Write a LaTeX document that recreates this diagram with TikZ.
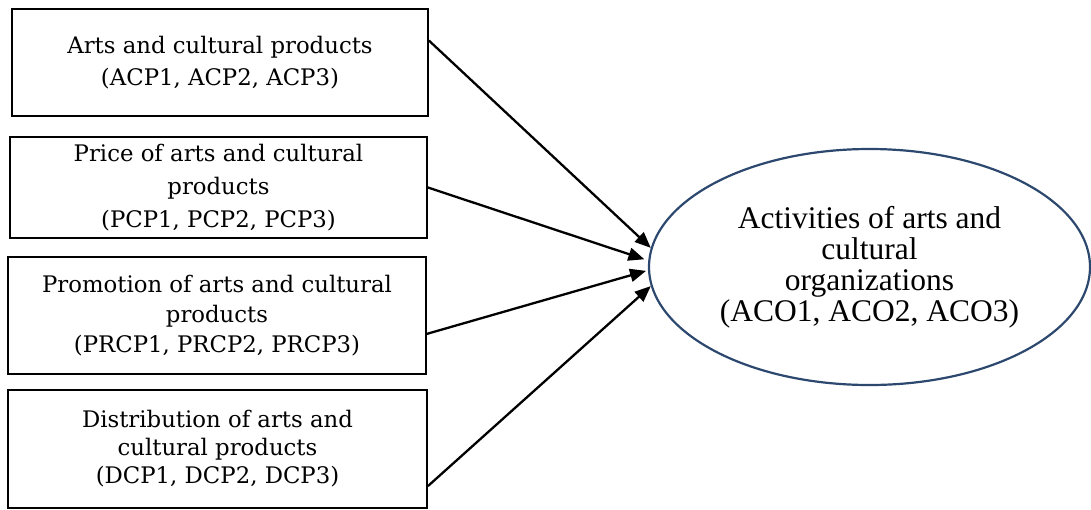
\documentclass[tikz,border=0pt]{standalone}
\usepackage{fontspec}
\setmainfont{DejaVu Serif}
\newfontfamily\ellfont{Liberation Serif}
\usetikzlibrary{shapes.geometric}
\usetikzlibrary{arrows.meta}
\definecolor{ellblue}{RGB}{44,72,110}
\tikzset{
    mybox/.style = {rectangle, draw=black, line width=1.8pt, align=center, inner sep=0pt,
                    font=\fontsize{22.8}{#1}\selectfont},
    mybox/.default = 30,
    myellipse/.style = {ellipse, draw=ellblue, line width=2.2pt, align=center, inner sep=0pt,
                        minimum width=441pt, minimum height=236pt,
                        font=\ellfont\fontsize{31.5}{31}\selectfont},
    edgea/.style = {-{Triangle[length=16pt,width=13pt]}, line width=2.3pt, black}
}

\begin{document}
\begin{tikzpicture}[x=1pt,y=-1pt]
  \useasboundingbox (0,0) rectangle (1091,509);
  \node[mybox=32, minimum width=416pt, minimum height=107pt] (acp) at (220,62.5)
    {Arts and cultural products\\(ACP1, ACP2, ACP3)};
  \node[mybox=33, minimum width=417pt, minimum height=101pt] (pcp) at (218.5,187.5)
    {Price of arts and cultural\\products\\(PCP1, PCP2, PCP3)};
  \node[mybox=30, minimum width=418pt, minimum height=117pt] (prcp) at (217,315.5)
    {Promotion of arts and cultural\\products\\(PRCP1, PRCP2, PRCP3)};
  \node[mybox=28, minimum width=419pt, minimum height=118pt] (dcp) at (217.5,449)
    {Distribution of arts and\\cultural products\\(DCP1, DCP2, DCP3)};
  % outcome
  \node[myellipse] (aco) at (869.5,267)
    {Activities of arts and\\cultural\\organizations\\(ACO1, ACO2, ACO3)};
  \draw[edgea] (acp.6) -- (aco.175);
  \draw[edgea] (pcp.east) -- ([xshift=-4pt]aco.178);
  \draw[edgea] (prcp.-5) -- ([xshift=-2pt]aco.181.5);
  \draw[edgea] (dcp.-10.5) -- (aco.185);
\end{tikzpicture}
\end{document}
